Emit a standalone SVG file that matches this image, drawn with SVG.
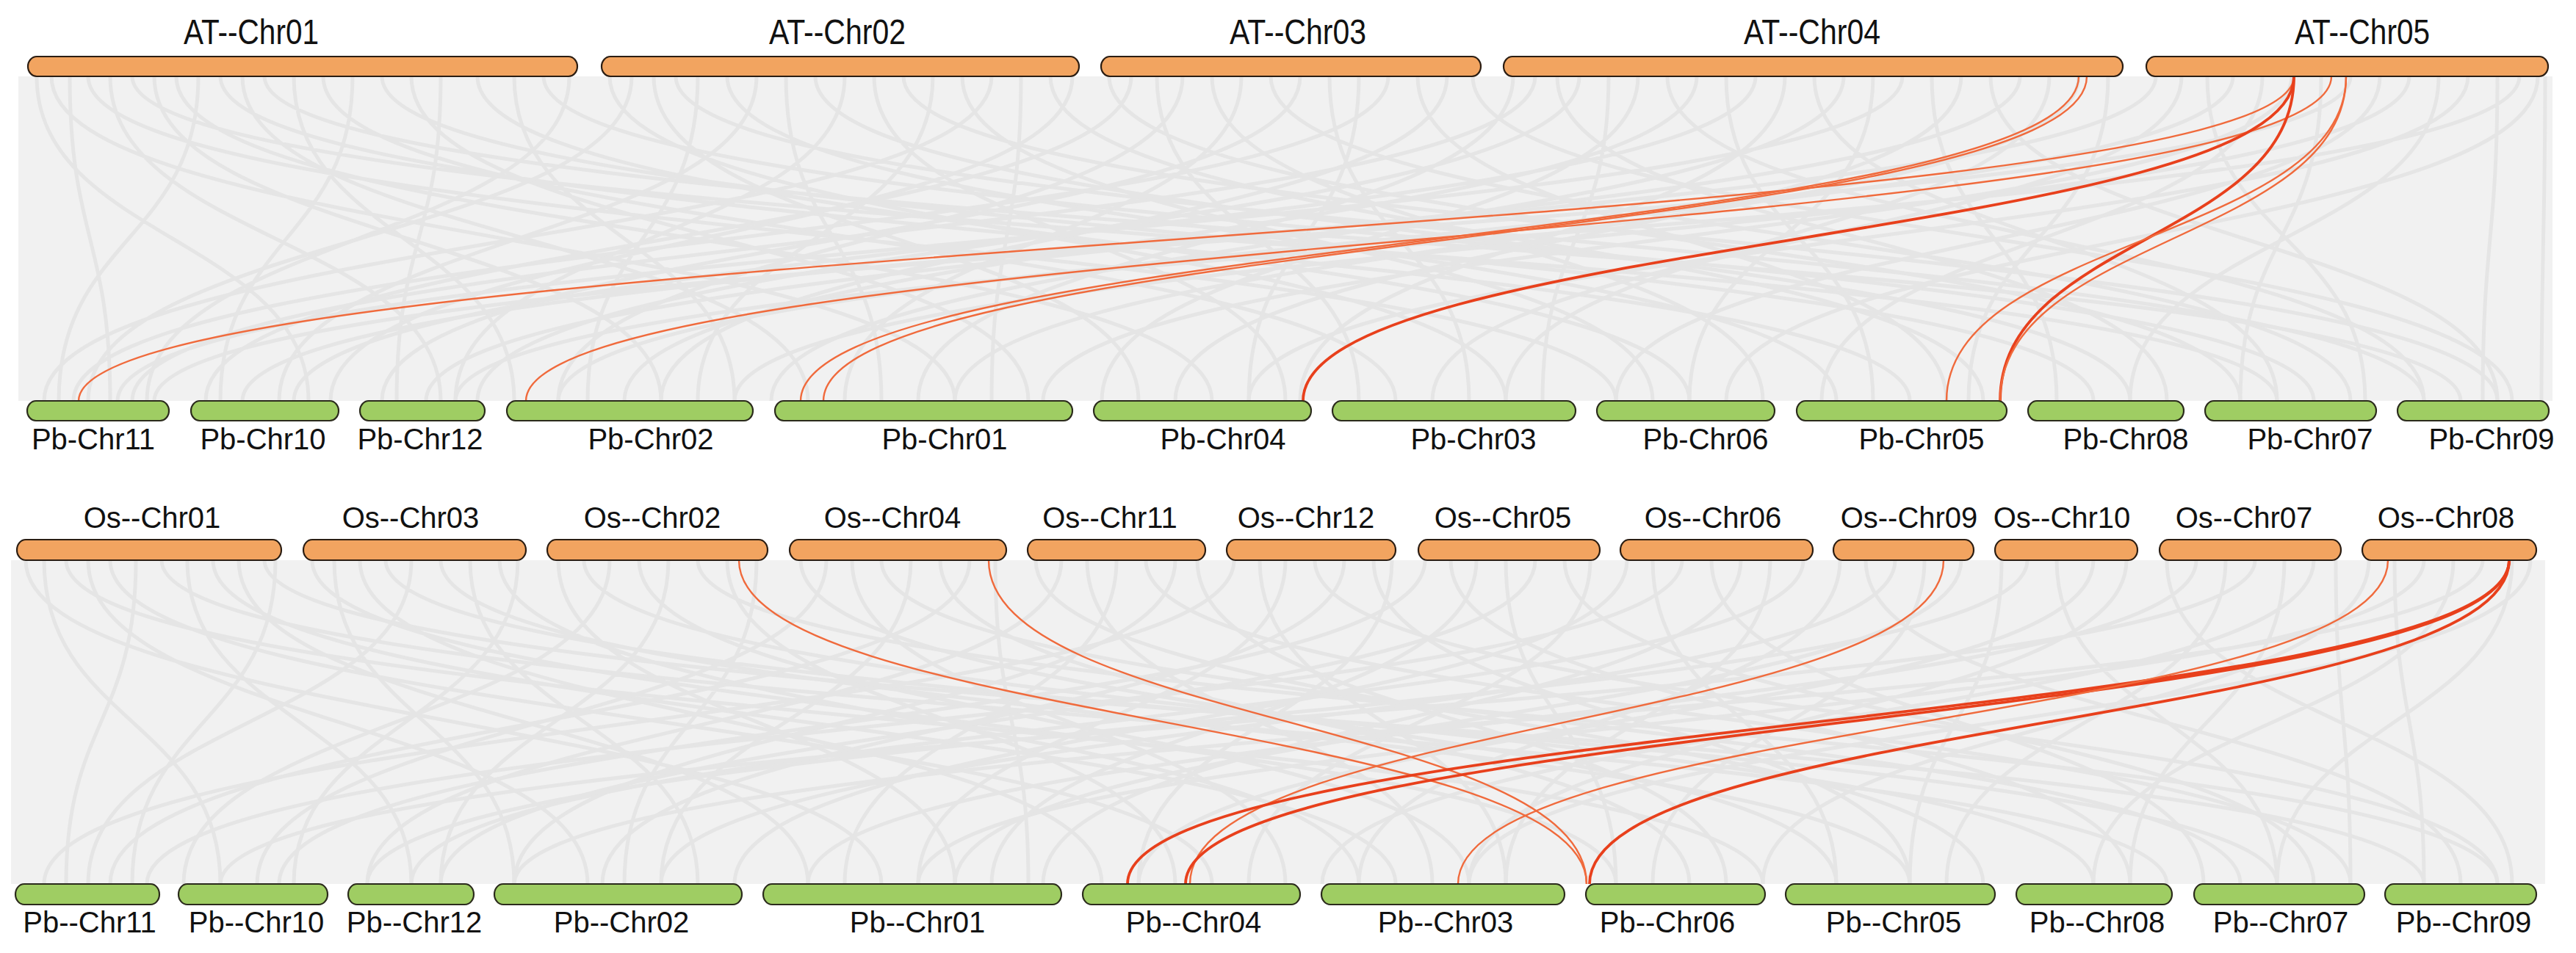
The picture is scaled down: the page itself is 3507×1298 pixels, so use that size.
<svg xmlns="http://www.w3.org/2000/svg" width="3507" height="1298" viewBox="0 0 3507 1298">
<defs>
<style>
.bg{fill:#f1f1f1;stroke:none}
.g{fill:none;stroke:#e5e5e5;stroke-width:5}
.r{fill:none;stroke:#f06a3c;stroke-width:2.4}
.rt{fill:none;stroke:#e8401c;stroke-width:3.8}
.at{fill:#f2a460;stroke:#2b1d12;stroke-width:2.2}
.pb{fill:#9fcd63;stroke:#2b2b1c;stroke-width:2.2}
.lab{font-family:"Liberation Sans",Arial,Helvetica,sans-serif;fill:#111;text-anchor:middle}
.l48{font-size:48px}
.l40{font-size:40px}
</style>
</defs>
<rect width="3507" height="1298" fill="#ffffff"/>
<g id="connectors">
<g id="links-background">
<rect class="bg" x="25" y="104" width="3450" height="442"/>
<rect class="bg" x="15" y="763" width="3450" height="441"/>
<path class="g" d="M50 104C50 325 420 325 420 546M70 104C70 325 1300 325 1300 546M95 104C95 325 150 325 150 546M120 104C120 325 2200 325 2200 546M150 104C150 325 600 325 600 546M180 104C180 325 3100 325 3100 546M210 104C210 325 900 325 900 546M240 104C240 325 1650 325 1650 546M270 104C270 325 80 325 80 546M300 104C300 325 2600 325 2600 546M330 104C330 325 1100 325 1100 546M360 104C360 325 3350 325 3350 546M400 104C400 325 700 325 700 546M440 104C440 325 1900 325 1900 546M480 104C480 325 300 325 300 546M520 104C520 325 2850 325 2850 546M560 104C560 325 1400 325 1400 546M600 104C600 325 540 325 540 546M650 104C650 325 2300 325 2300 546M700 104C700 325 1000 325 1000 546M740 104C740 325 3150 325 3150 546M775 104C775 325 200 325 200 546"/>
<path class="g" d="M830 104C830 325 2050 325 2050 546M860 104C860 325 120 325 120 546M890 104C890 325 1550 325 1550 546M920 104C920 325 3300 325 3300 546M950 104C950 325 800 325 800 546M990 104C990 325 2500 325 2500 546M1030 104C1030 325 380 325 380 546M1070 104C1070 325 1200 325 1200 546M1110 104C1110 325 2900 325 2900 546M1150 104C1150 325 620 325 620 546M1190 104C1190 325 1750 325 1750 546M1230 104C1230 325 3400 325 3400 546M1270 104C1270 325 950 325 950 546M1310 104C1310 325 2250 325 2250 546M1350 104C1350 325 60 325 60 546M1390 104C1390 325 1350 325 1350 546M1430 104C1430 325 2700 325 2700 546M1460 104C1460 325 450 325 450 546"/>
<path class="g" d="M1510 104C1510 325 3050 325 3050 546M1540 104C1540 325 280 325 280 546M1575 104C1575 325 1850 325 1850 546M1610 104C1610 325 760 325 760 546M1650 104C1650 325 2400 325 2400 546M1690 104C1690 325 1150 325 1150 546M1730 104C1730 325 3200 325 3200 546M1770 104C1770 325 520 325 520 546M1810 104C1810 325 2000 325 2000 546M1850 104C1850 325 1700 325 1700 546M1890 104C1890 325 100 325 100 546M1930 104C1930 325 2650 325 2650 546M1970 104C1970 325 900 325 900 546M2005 104C2005 325 3420 325 3420 546"/>
<path class="g" d="M2060 104C2060 325 1250 325 1250 546M2090 104C2090 325 180 325 180 546M2120 104C2120 325 2950 325 2950 546M2150 104C2150 325 650 325 650 546M2190 104C2190 325 2100 325 2100 546M2230 104C2230 325 1500 325 1500 546M2270 104C2270 325 3300 325 3300 546M2310 104C2310 325 850 325 850 546M2350 104C2350 325 2550 325 2550 546M2390 104C2390 325 400 325 400 546M2430 104C2430 325 1770 325 1770 546M2470 104C2470 325 3100 325 3100 546M2510 104C2510 325 1050 325 1050 546M2550 104C2550 325 2300 325 2300 546M2590 104C2590 325 160 325 160 546M2630 104C2630 325 2800 325 2800 546M2670 104C2670 325 1600 325 1600 546M2710 104C2710 325 3400 325 3400 546M2750 104C2750 325 580 325 580 546M2790 104C2790 325 2050 325 2050 546M2830 104C2830 325 1300 325 1300 546M2870 104C2870 325 2680 325 2680 546"/>
<path class="g" d="M2935 104C2935 325 330 325 330 546M2970 104C2970 325 1950 325 1950 546M3005 104C3005 325 3220 325 3220 546M3040 104C3040 325 760 325 760 546M3080 104C3080 325 2480 325 2480 546M3120 104C3120 325 1420 325 1420 546M3160 104C3160 325 3050 325 3050 546M3200 104C3200 325 210 325 210 546M3240 104C3240 325 2200 325 2200 546M3280 104C3280 325 1000 325 1000 546M3320 104C3320 325 2900 325 2900 546M3360 104C3360 325 1700 325 1700 546M3400 104C3400 325 3380 325 3380 546M3430 104C3430 325 620 325 620 546M3455 104C3455 325 2350 325 2350 546M3465 104C3465 325 3460 325 3460 546"/>
<path class="g" d="M35 763C35 983 1200 983 1200 1204M60 763C60 983 300 983 300 1204M90 763C90 983 2400 983 2400 1204M120 763C120 983 800 983 800 1204M150 763C150 983 1650 983 1650 1204M185 763C185 983 90 983 90 1204M220 763C220 983 2950 983 2950 1204M255 763C255 983 560 983 560 1204M290 763C290 983 1900 983 1900 1204M325 763C325 983 1100 983 1100 1204M360 763C360 983 3300 983 3300 1204M375 763C375 983 180 983 180 1204"/>
<path class="g" d="M425 763C425 983 2200 983 2200 1204M455 763C455 983 700 983 700 1204M490 763C490 983 1500 983 1500 1204M525 763C525 983 3100 983 3100 1204M560 763C560 983 120 983 120 1204M600 763C600 983 2600 983 2600 1204M640 763C640 983 950 983 950 1204M680 763C680 983 1850 983 1850 1204M705 763C705 983 400 983 400 1204M760 763C760 983 1300 983 1300 1204M795 763C795 983 2850 983 2850 1204M830 763C830 983 250 983 250 1204M870 763C870 983 2000 983 2000 1204M910 763C910 983 600 983 600 1204M950 763C950 983 3400 983 3400 1204M990 763C990 983 1600 983 1600 1204M1030 763C1030 983 850 983 850 1204"/>
<path class="g" d="M1090 763C1090 983 2500 983 2500 1204M1125 763C1125 983 350 983 350 1204M1160 763C1160 983 1750 983 1750 1204M1200 763C1200 983 3050 983 3050 1204M1240 763C1240 983 900 983 900 1204M1280 763C1280 983 2300 983 2300 1204M1320 763C1320 983 150 983 150 1204M1355 763C1355 983 1400 983 1400 1204M1410 763C1410 983 2700 983 2700 1204M1445 763C1445 983 500 983 500 1204M1480 763C1480 983 1950 983 1950 1204M1520 763C1520 983 1150 983 1150 1204M1560 763C1560 983 3200 983 3200 1204M1600 763C1600 983 700 983 700 1204M1630 763C1630 983 2350 983 2350 1204"/>
<path class="g" d="M1680 763C1680 983 60 983 60 1204M1715 763C1715 983 2050 983 2050 1204M1750 763C1750 983 1250 983 1250 1204M1790 763C1790 983 3400 983 3400 1204M1830 763C1830 983 820 983 820 1204M1870 763C1870 983 2600 983 2600 1204M1895 763C1895 983 1550 983 1550 1204M1940 763C1940 983 380 983 380 1204M1975 763C1975 983 2900 983 2900 1204M2010 763C2010 983 1350 983 1350 1204M2050 763C2050 983 2200 983 2200 1204M2090 763C2090 983 600 983 600 1204M2130 763C2130 983 3150 983 3150 1204M2165 763C2165 983 1700 983 1700 1204"/>
<path class="g" d="M2215 763C2215 983 1000 983 1000 1204M2250 763C2250 983 2500 983 2500 1204M2290 763C2290 983 200 983 200 1204M2330 763C2330 983 3000 983 3000 1204M2370 763C2370 983 1420 983 1420 1204M2410 763C2410 983 2050 983 2050 1204M2455 763C2455 983 560 983 560 1204M2505 763C2505 983 1850 983 1850 1204M2540 763C2540 983 3350 983 3350 1204M2580 763C2580 983 900 983 900 1204M2620 763C2620 983 2250 983 2250 1204M2670 763C2670 983 1300 983 1300 1204"/>
<path class="g" d="M2725 763C2725 983 2600 983 2600 1204M2760 763C2760 983 500 983 500 1204M2800 763C2800 983 3100 983 3100 1204M2850 763C2850 983 1550 983 1550 1204M2895 763C2895 983 2000 983 2000 1204M2950 763C2950 983 3420 983 3420 1204M2990 763C2990 983 1100 983 1100 1204M3030 763C3030 983 2650 983 2650 1204M3070 763C3070 983 300 983 300 1204M3110 763C3110 983 2900 983 2900 1204M3150 763C3150 983 1800 983 1800 1204M3180 763C3180 983 3200 983 3200 1204M3225 763C3225 983 2400 983 2400 1204M3260 763C3260 983 3300 983 3300 1204M3300 763C3300 983 1250 983 1250 1204M3340 763C3340 983 2850 983 2850 1204M3380 763C3380 983 700 983 700 1204M3420 763C3420 983 3100 983 3100 1204M3445 763C3445 983 2000 983 2000 1204"/>
</g>
<g id="links-highlight">
<path class="r" d="M2830 104C2830 325 1090 325 1090 546"/>
<path class="r" d="M2841 104C2841 325 1121 325 1121 546"/>
<path class="r" d="M3123 104C3123 325 107 325 107 546"/>
<path class="r" d="M3174 104C3174 325 716 325 716 546"/>
<path class="rt" d="M3123 104C3123 325 1774 325 1774 546"/>
<path class="rt" d="M3123 104C3123 325 2723 325 2723 546"/>
<path class="r" d="M3194 104C3194 325 2723 325 2723 546"/>
<path class="r" d="M3194 104C3194 325 2650 325 2650 546"/>
<path class="r" d="M1006 763C1006 983 2160 983 2160 1204"/>
<path class="r" d="M1346 763C1346 983 2160 983 2160 1204"/>
<path class="r" d="M2646 763C2646 983 1620 983 1620 1204"/>
<path class="rt" d="M3416 763C3416 983 1535 983 1535 1204"/>
<path class="rt" d="M3416 763C3416 983 1614 983 1614 1204"/>
<path class="r" d="M3251 763C3251 983 1985 983 1985 1204"/>
<path class="rt" d="M3416 763C3416 983 2164 983 2164 1204"/>
</g>
</g>
<g id="AT-Chr01"><rect class="at" x="38" y="77" width="748" height="27" rx="12" ry="13.5"/><text class="lab l48" x="342" y="60" textLength="184" lengthAdjust="spacingAndGlyphs">AT--Chr01</text></g>
<g id="AT-Chr02"><rect class="at" x="819" y="77" width="650" height="27" rx="12" ry="13.5"/><text class="lab l48" x="1140" y="60" textLength="186" lengthAdjust="spacingAndGlyphs">AT--Chr02</text></g>
<g id="AT-Chr03"><rect class="at" x="1499" y="77" width="517" height="27" rx="12" ry="13.5"/><text class="lab l48" x="1767" y="60" textLength="186" lengthAdjust="spacingAndGlyphs">AT--Chr03</text></g>
<g id="AT-Chr04"><rect class="at" x="2047" y="77" width="843" height="27" rx="12" ry="13.5"/><text class="lab l48" x="2467" y="60" textLength="186" lengthAdjust="spacingAndGlyphs">AT--Chr04</text></g>
<g id="AT-Chr05"><rect class="at" x="2922" y="77" width="547" height="27" rx="12" ry="13.5"/><text class="lab l48" x="3216" y="60" textLength="184" lengthAdjust="spacingAndGlyphs">AT--Chr05</text></g>
<g id="Pb1-Chr11"><rect class="pb" x="37" y="546" width="193" height="27" rx="12" ry="13.5"/><text class="lab l40" x="127" y="612">Pb-Chr11</text></g>
<g id="Pb1-Chr10"><rect class="pb" x="260" y="546" width="201" height="27" rx="12" ry="13.5"/><text class="lab l40" x="358" y="612">Pb-Chr10</text></g>
<g id="Pb1-Chr12"><rect class="pb" x="490" y="546" width="170" height="27" rx="12" ry="13.5"/><text class="lab l40" x="572" y="612">Pb-Chr12</text></g>
<g id="Pb1-Chr02"><rect class="pb" x="690" y="546" width="335" height="27" rx="12" ry="13.5"/><text class="lab l40" x="886" y="612">Pb-Chr02</text></g>
<g id="Pb1-Chr01"><rect class="pb" x="1055" y="546" width="405" height="27" rx="12" ry="13.5"/><text class="lab l40" x="1286" y="612">Pb-Chr01</text></g>
<g id="Pb1-Chr04"><rect class="pb" x="1489" y="546" width="296" height="27" rx="12" ry="13.5"/><text class="lab l40" x="1665" y="612">Pb-Chr04</text></g>
<g id="Pb1-Chr03"><rect class="pb" x="1814" y="546" width="331" height="27" rx="12" ry="13.5"/><text class="lab l40" x="2006" y="612">Pb-Chr03</text></g>
<g id="Pb1-Chr06"><rect class="pb" x="2174" y="546" width="242" height="27" rx="12" ry="13.5"/><text class="lab l40" x="2322" y="612">Pb-Chr06</text></g>
<g id="Pb1-Chr05"><rect class="pb" x="2446" y="546" width="286" height="27" rx="12" ry="13.5"/><text class="lab l40" x="2616" y="612">Pb-Chr05</text></g>
<g id="Pb1-Chr08"><rect class="pb" x="2761" y="546" width="212" height="27" rx="12" ry="13.5"/><text class="lab l40" x="2894" y="612">Pb-Chr08</text></g>
<g id="Pb1-Chr07"><rect class="pb" x="3002" y="546" width="233" height="27" rx="12" ry="13.5"/><text class="lab l40" x="3145" y="612">Pb-Chr07</text></g>
<g id="Pb1-Chr09"><rect class="pb" x="3264" y="546" width="206" height="27" rx="12" ry="13.5"/><text class="lab l40" x="3392" y="612">Pb-Chr09</text></g>
<g id="Os-Chr01"><rect class="at" x="23" y="735" width="360" height="28" rx="12" ry="14"/><text class="lab l40" x="207" y="719">Os--Chr01</text></g>
<g id="Os-Chr03"><rect class="at" x="413" y="735" width="303" height="28" rx="12" ry="14"/><text class="lab l40" x="559" y="719">Os--Chr03</text></g>
<g id="Os-Chr02"><rect class="at" x="745" y="735" width="300" height="28" rx="12" ry="14"/><text class="lab l40" x="888" y="719">Os--Chr02</text></g>
<g id="Os-Chr04"><rect class="at" x="1075" y="735" width="295" height="28" rx="12" ry="14"/><text class="lab l40" x="1215" y="719">Os--Chr04</text></g>
<g id="Os-Chr11"><rect class="at" x="1399" y="735" width="242" height="28" rx="12" ry="14"/><text class="lab l40" x="1511" y="719">Os--Chr11</text></g>
<g id="Os-Chr12"><rect class="at" x="1670" y="735" width="230" height="28" rx="12" ry="14"/><text class="lab l40" x="1778" y="719">Os--Chr12</text></g>
<g id="Os-Chr05"><rect class="at" x="1931" y="735" width="247" height="28" rx="12" ry="14"/><text class="lab l40" x="2046" y="719">Os--Chr05</text></g>
<g id="Os-Chr06"><rect class="at" x="2206" y="735" width="262" height="28" rx="12" ry="14"/><text class="lab l40" x="2332" y="719">Os--Chr06</text></g>
<g id="Os-Chr09"><rect class="at" x="2496" y="735" width="191" height="28" rx="12" ry="14"/><text class="lab l40" x="2599" y="719">Os--Chr09</text></g>
<g id="Os-Chr10"><rect class="at" x="2716" y="735" width="194" height="28" rx="12" ry="14"/><text class="lab l40" x="2807" y="719">Os--Chr10</text></g>
<g id="Os-Chr07"><rect class="at" x="2940" y="735" width="247" height="28" rx="12" ry="14"/><text class="lab l40" x="3055" y="719">Os--Chr07</text></g>
<g id="Os-Chr08"><rect class="at" x="3216" y="735" width="237" height="28" rx="12" ry="14"/><text class="lab l40" x="3330" y="719">Os--Chr08</text></g>
<g id="Pb2-Chr11"><rect class="pb" x="21" y="1204" width="196" height="28" rx="12" ry="14"/><text class="lab l40" x="122" y="1270">Pb--Chr11</text></g>
<g id="Pb2-Chr10"><rect class="pb" x="243" y="1204" width="203" height="28" rx="12" ry="14"/><text class="lab l40" x="349" y="1270">Pb--Chr10</text></g>
<g id="Pb2-Chr12"><rect class="pb" x="474" y="1204" width="171" height="28" rx="12" ry="14"/><text class="lab l40" x="564" y="1270">Pb--Chr12</text></g>
<g id="Pb2-Chr02"><rect class="pb" x="673" y="1204" width="337" height="28" rx="12" ry="14"/><text class="lab l40" x="846" y="1270">Pb--Chr02</text></g>
<g id="Pb2-Chr01"><rect class="pb" x="1039" y="1204" width="406" height="28" rx="12" ry="14"/><text class="lab l40" x="1249" y="1270">Pb--Chr01</text></g>
<g id="Pb2-Chr04"><rect class="pb" x="1474" y="1204" width="296" height="28" rx="12" ry="14"/><text class="lab l40" x="1625" y="1270">Pb--Chr04</text></g>
<g id="Pb2-Chr03"><rect class="pb" x="1799" y="1204" width="331" height="28" rx="12" ry="14"/><text class="lab l40" x="1968" y="1270">Pb--Chr03</text></g>
<g id="Pb2-Chr06"><rect class="pb" x="2159" y="1204" width="244" height="28" rx="12" ry="14"/><text class="lab l40" x="2270" y="1270">Pb--Chr06</text></g>
<g id="Pb2-Chr05"><rect class="pb" x="2431" y="1204" width="285" height="28" rx="12" ry="14"/><text class="lab l40" x="2578" y="1270">Pb--Chr05</text></g>
<g id="Pb2-Chr08"><rect class="pb" x="2745" y="1204" width="212" height="28" rx="12" ry="14"/><text class="lab l40" x="2855" y="1270">Pb--Chr08</text></g>
<g id="Pb2-Chr07"><rect class="pb" x="2987" y="1204" width="232" height="28" rx="12" ry="14"/><text class="lab l40" x="3105" y="1270">Pb--Chr07</text></g>
<g id="Pb2-Chr09"><rect class="pb" x="3247" y="1204" width="206" height="28" rx="12" ry="14"/><text class="lab l40" x="3354" y="1270">Pb--Chr09</text></g>
</svg>
